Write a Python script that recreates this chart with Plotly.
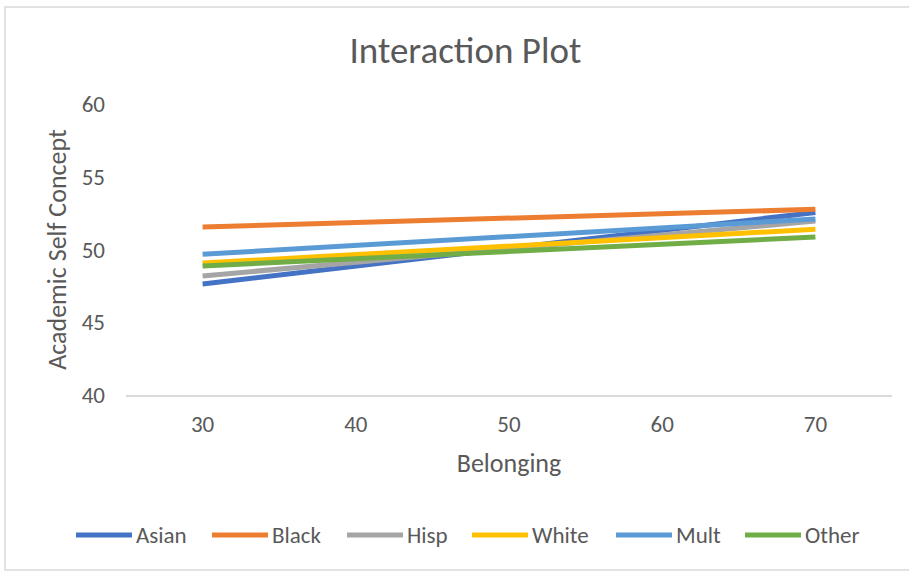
import plotly.graph_objects as go

# Belonging levels at which the simple slopes are evaluated
belonging = [30, 70]

# Predicted academic self concept per group
groups = ["Asian", "Black", "Hisp", "White", "Mult", "Other"]
asian = [47.63, 52.55]
black = [51.55, 52.76]
hisp = [48.18, 51.95]
white = [49.07, 51.39]
mult = [49.67, 52.10]
other = [48.87, 50.86]

colors = ["#4472C4", "#ED7D31", "#A5A5A5", "#FFC000", "#5B9BD5", "#70AD47"]
series = [asian, black, hisp, white, mult, other]

x_ticks = [30, 40, 50, 60, 70]
y_ticks = [40, 45, 50, 55, 60]

FONT = "Carlito, Calibri, Lato, sans-serif"
TEXT = "#595959"

# Plot-area geometry in pixels (used to place the frame and the key)
PL, PR, PT, PB = 126, 892, 104, 395


def px_x(x):
    return (x - PL) / (PR - PL)


def px_y(y):
    return (PB - y) / (PB - PT)


fig = go.Figure()
for name, vals, col in zip(groups, series, colors):
    fig.add_trace(go.Scatter(
        x=belonging, y=vals, name=name, mode="lines",
        line=dict(color=col, width=5), showlegend=False,
    ))

fig.update_layout(
    width=909, height=571,
    margin=dict(l=PL, r=909 - PR, t=PT, b=571 - PB),
    paper_bgcolor="white", plot_bgcolor="white",
    font=dict(family=FONT, color=TEXT, size=23),
    title=dict(text="Interaction Plot", x=0.512, xanchor="center",
               y=1 - 50 / 571, yanchor="middle",
               font=dict(size=37, color=TEXT, family=FONT)),
    showlegend=False,
    xaxis=dict(range=[25, 75], tickvals=x_ticks, showgrid=False,
               zeroline=False, showline=True, linecolor="#D9D9D9",
               linewidth=1.5, ticks="", ticklabelstandoff=8,
               title=dict(text="Belonging", standoff=16,
                          font=dict(size=26, color=TEXT, family=FONT)),
               tickfont=dict(size=23, color=TEXT)),
    yaxis=dict(range=[40, 60], tickvals=y_ticks, showgrid=False,
               zeroline=False, showline=False, ticks="",
               ticklabelstandoff=20,
               title=dict(text="Academic Self Concept", standoff=7,
                          font=dict(size=26, color=TEXT, family=FONT)),
               tickfont=dict(size=23, color=TEXT)),
)

# Light frame around the whole chart area
fig.add_shape(type="rect", xref="paper", yref="paper",
              x0=px_x(5), x1=px_x(915), y0=px_y(570), y1=px_y(7),
              line=dict(color="#D9D9D9", width=1.5), fillcolor="rgba(0,0,0,0)",
              layer="below")

# Key below the chart: a short coloured stroke followed by the group name
key_starts = [76, 212, 347, 472, 616, 745]
KEY_Y, KEY_LEN = 535, 56
for name, col, x0 in zip(groups, colors, key_starts):
    fig.add_shape(type="line", xref="paper", yref="paper",
                  x0=px_x(x0), x1=px_x(x0 + KEY_LEN),
                  y0=px_y(KEY_Y), y1=px_y(KEY_Y),
                  line=dict(color=col, width=5))
    fig.add_annotation(text=name, xref="paper", yref="paper",
                       x=px_x(x0 + KEY_LEN + 2), y=px_y(KEY_Y),
                       xanchor="left", yanchor="middle", showarrow=False,
                       font=dict(size=23, color=TEXT, family=FONT))

fig.write_html("out.html")
